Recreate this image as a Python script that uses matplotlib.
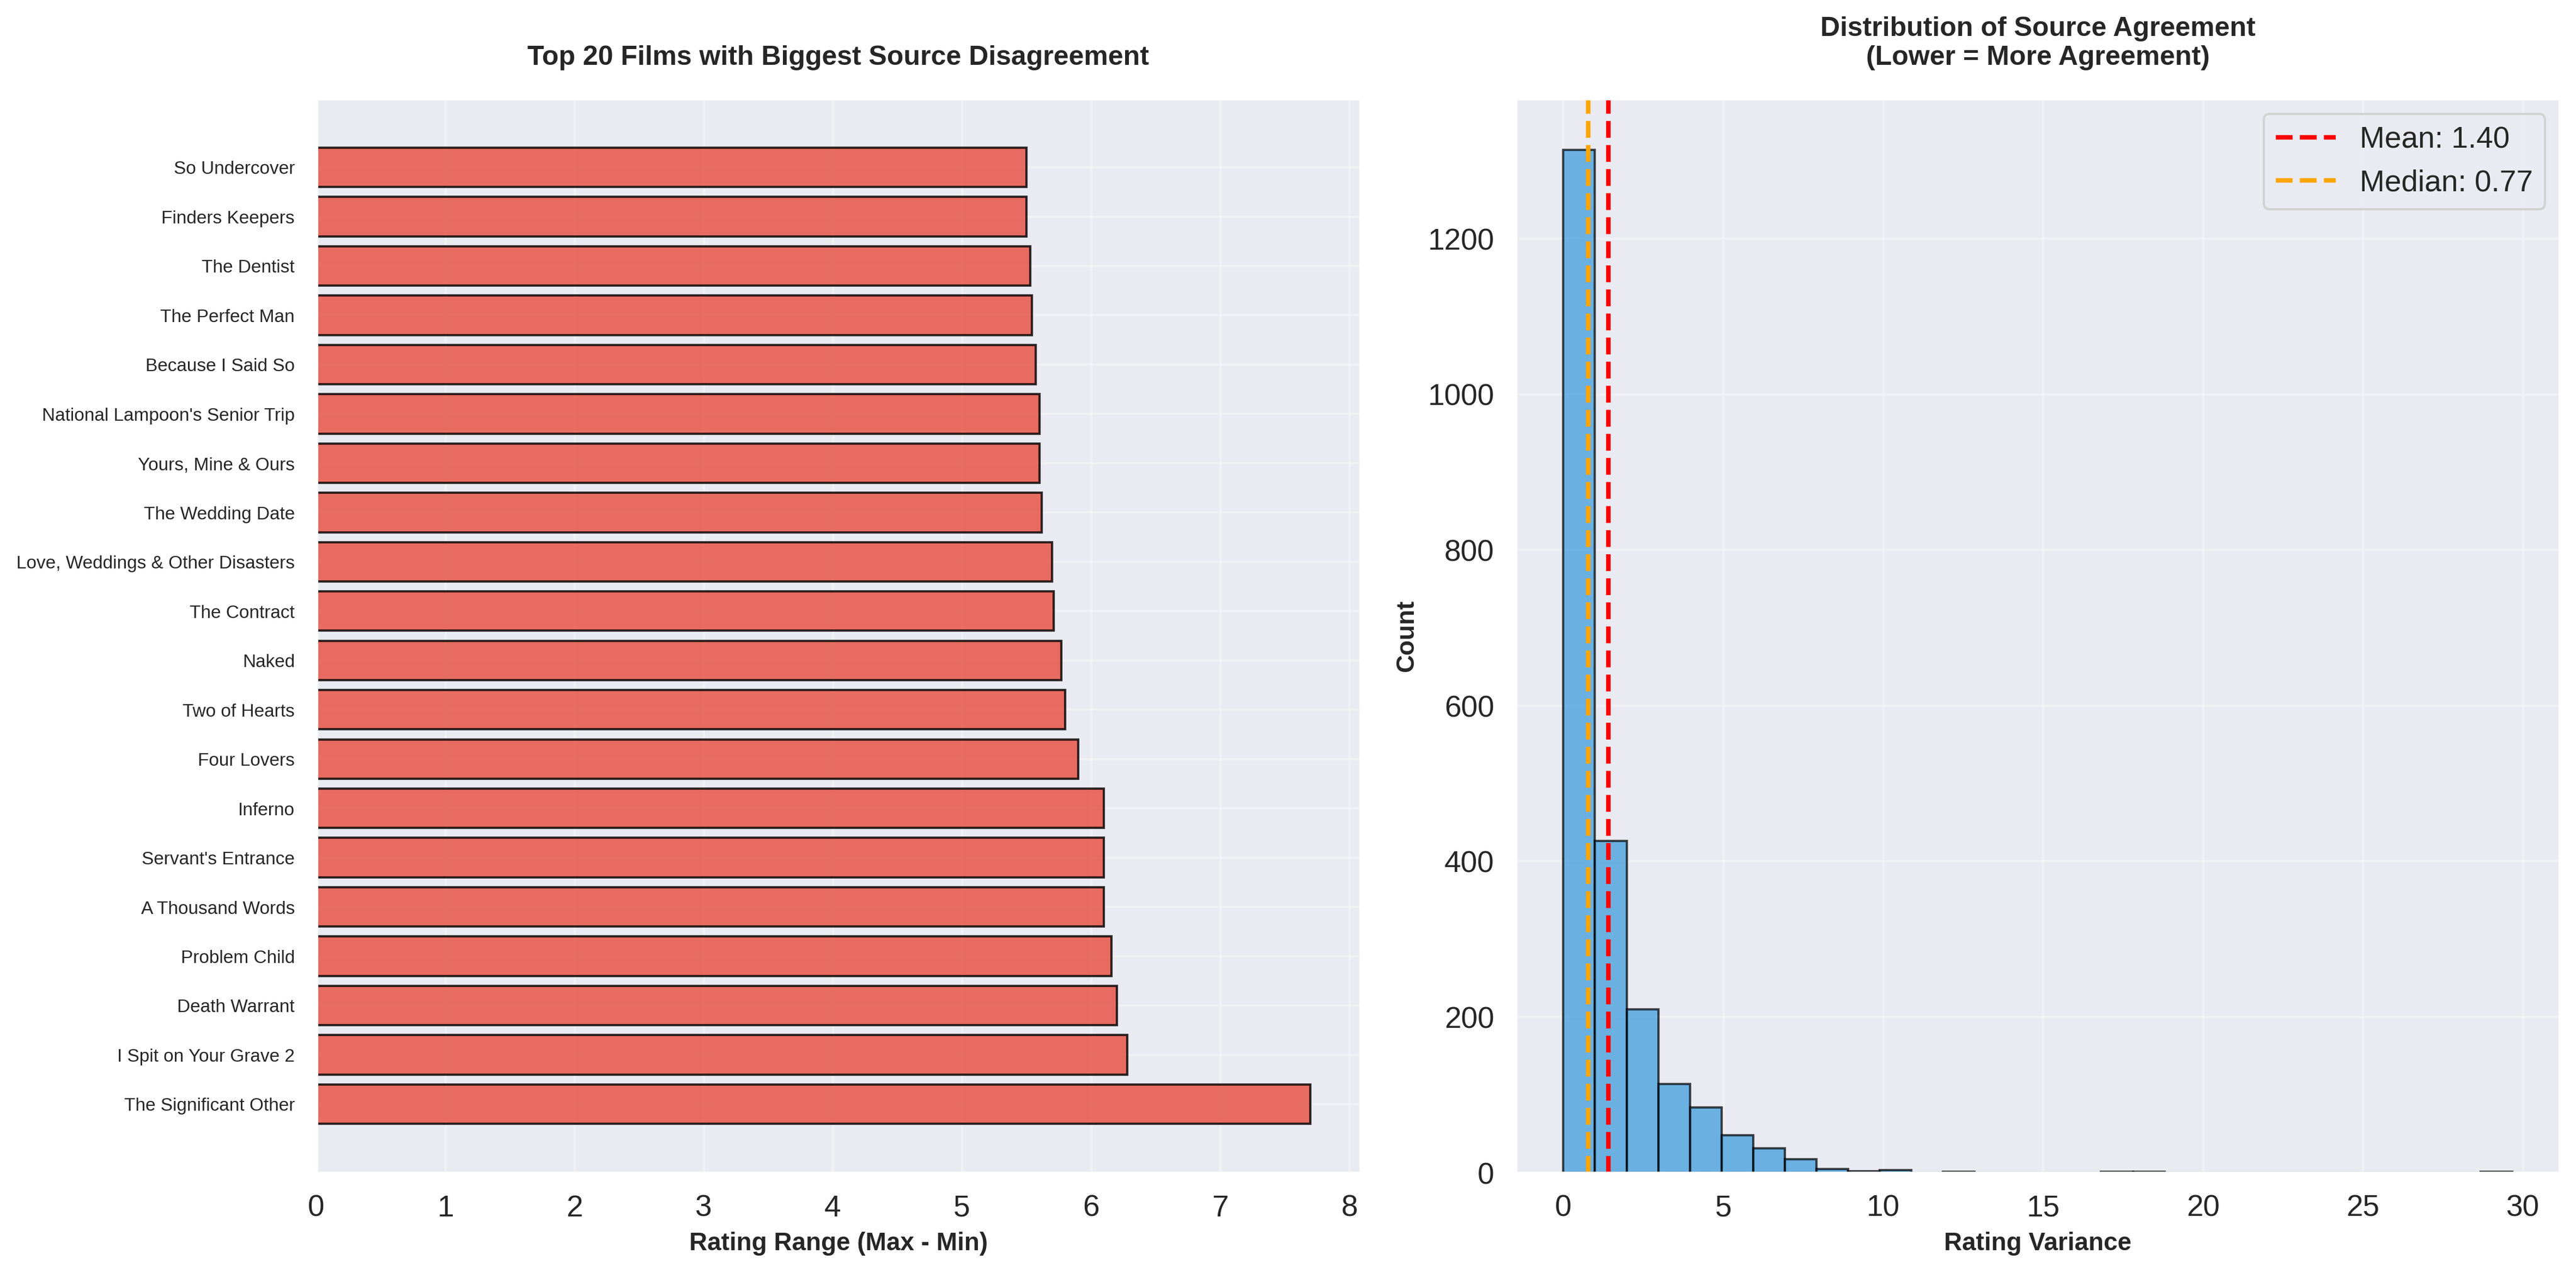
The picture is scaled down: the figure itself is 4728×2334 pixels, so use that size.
import numpy as np
import matplotlib
matplotlib.use("Agg")
import matplotlib.pyplot as plt
import seaborn as sns

sns.set_theme(style="darkgrid", font_scale=1.2)
plt.rcParams['font.family'] = ['Liberation Sans', 'DejaVu Sans']

# top 20 films, largest range first (drawn bottom-up)
films = ["The Significant Other", "I Spit on Your Grave 2", "Death Warrant",
         "Problem Child", "A Thousand Words", "Servant's Entrance", "Inferno",
         "Four Lovers", "Two of Hearts", "Naked", "The Contract",
         "Love, Weddings & Other Disasters", "The Wedding Date",
         "Yours, Mine & Ours", "National Lampoon's Senior Trip",
         "Because I Said So", "The Perfect Man", "The Dentist",
         "Finders Keepers", "So Undercover"]
rating_range = [7.70, 6.28, 6.20, 6.16, 6.10, 6.10, 6.10, 5.90, 5.80, 5.77,
                5.71, 5.70, 5.62, 5.60, 5.60, 5.57, 5.54, 5.53, 5.50, 5.50]

# histogram of rating variance (30 bins)
var_min, var_max = 0.0, 29.67
var_counts = [1314, 426, 210, 114, 84, 48, 31, 17, 5, 2,
              3, 0, 1, 0, 0, 0, 0, 1, 1, 0,
              0, 0, 0, 0, 0, 0, 0, 0, 0, 1]
mean_var = 1.40
median_var = 0.77

fig, (ax1, ax2) = plt.subplots(1, 2, figsize=(16, 8))

# left: horizontal bars
y = np.arange(len(films))
ax1.barh(y, rating_range, color='#e74c3c', alpha=0.8, edgecolor='black')
ax1.set_yticks(y)
ax1.set_yticklabels(films, fontsize=8)
ax1.set_xlabel('Rating Range (Max - Min)', fontsize=11, fontweight='bold')
ax1.set_title('Top 20 Films with Biggest Source Disagreement',
              fontsize=12, fontweight='bold', pad=15)
ax1.grid(alpha=0.3)

# right: histogram
edges = np.linspace(var_min, var_max, len(var_counts) + 1)
ax2.hist(edges[:-1], bins=edges, weights=var_counts, color='#3498db',
         alpha=0.7, edgecolor='black')
ax2.axvline(mean_var, color='red', linestyle='--', linewidth=2,
            label=f'Mean: {mean_var:.2f}')
ax2.axvline(median_var, color='orange', linestyle='--', linewidth=2,
            label=f'Median: {median_var:.2f}')
ax2.set_xlabel('Rating Variance', fontsize=11, fontweight='bold')
ax2.set_ylabel('Count', fontsize=11, fontweight='bold')
ax2.set_title('Distribution of Source Agreement\n(Lower = More Agreement)',
              fontsize=12, fontweight='bold', pad=15)
ax2.legend()
ax2.grid(alpha=0.3)

plt.tight_layout()
plt.savefig('out.png', dpi=300, bbox_inches='tight')
